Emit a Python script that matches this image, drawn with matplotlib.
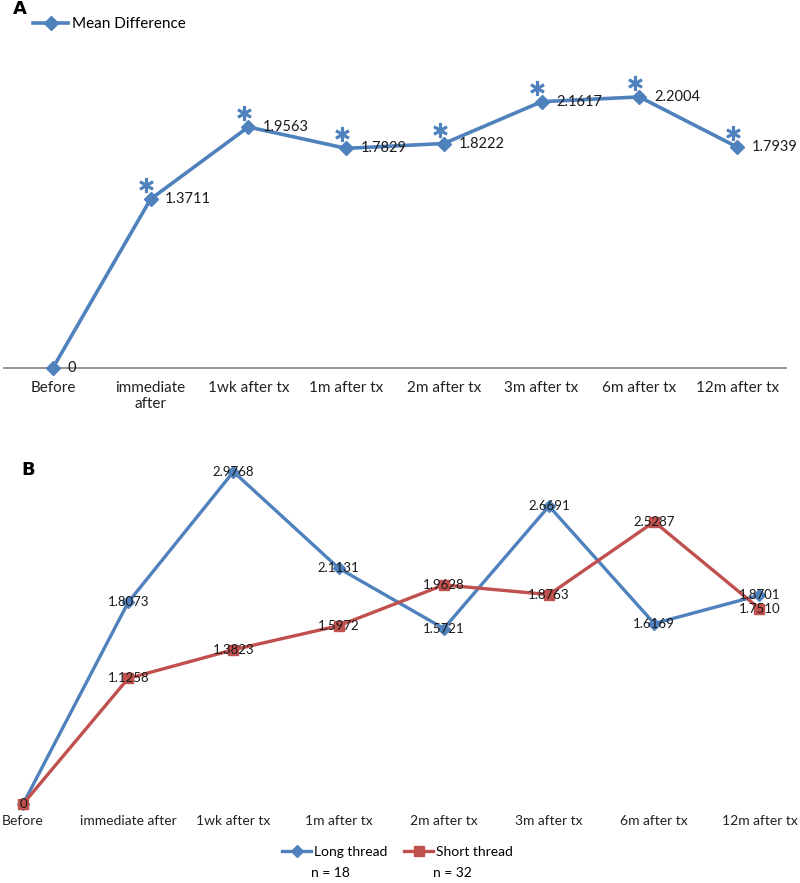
import matplotlib
matplotlib.use("Agg")
import matplotlib.pyplot as plt
from matplotlib.transforms import ScaledTranslation

plt.rcParams['font.family'] = ['Lato', 'DejaVu Sans']

# panel A data
labels_a = ["Before", "immediate\nafter", "1wk after tx", "1m after tx", "2m after tx",
            "3m after tx", "6m after tx", "12m after tx"]
mean_diff = [0, 1.3711, 1.9563, 1.7829, 1.8222, 2.1617, 2.2004, 1.7939]
significant = [False, True, True, True, True, True, True, True]

# panel B data
labels_b = ["Before", "immediate after", "1wk after tx", "1m after tx", "2m after tx",
            "3m after tx", "6m after tx", "12m after tx"]
long_thread = [0, 1.8073, 2.9768, 2.1131, 1.5721, 2.6691, 1.6169, 1.8701]
short_thread = [0, 1.1258, 1.3823, 1.5972, 1.9628, 1.8763, 2.5287, 1.7510]
n_long = 18
n_short = 32

BLUE = "#4F81BD"
RED = "#C0504D"
W, H = 800, 883


def px_axes(fig, left, top, right, bottom):
    # axes placed by pixel box (top-left origin)
    return fig.add_axes([left / W, 1 - bottom / H, (right - left) / W, (bottom - top) / H])


fig = plt.figure(figsize=(W / 100, H / 100), dpi=100)

# ---------- Panel A ----------
ax = px_axes(fig, 4, 60, 786, 368)
xs = list(range(len(mean_diff)))
ax.plot(xs, mean_diff, color=BLUE, lw=2.6, marker="D", ms=7, label="Mean Difference",
        clip_on=False, zorder=3)
ax.set_xlim(-0.5, 7.5)
ax.set_ylim(0, 2.5)
for s in ["top", "left", "right"]:
    ax.spines[s].set_visible(False)
ax.spines["bottom"].set_color("#8c8c8c")
ax.spines["bottom"].set_linewidth(1.3)
ax.spines["bottom"].set_zorder(1)
ax.set_yticks([])
ax.set_xticks(xs)
ax.set_xticklabels(labels_a, fontsize=11, color="#222222")
ax.tick_params(axis="x", length=0, pad=9)

for i, v in enumerate(mean_diff):
    ax.annotate(f"{v:.4f}" if v else "0", xy=(i, v), xytext=(10.5, 0),
                textcoords="offset points", ha="left", va="center",
                fontsize=10.5, color="#1a1a1a", annotation_clip=False)

star_tr = ax.transData + ScaledTranslation(-3 / 72, 10 / 72, fig.dpi_scale_trans)
sx = [i for i, s in enumerate(significant) if s]
sy = [mean_diff[i] for i in sx]
ax.plot(sx, sy, ls="none", marker=r"$\ast$", ms=10, color=BLUE, transform=star_tr,
        clip_on=False)

ax.legend(loc="center left", bbox_to_anchor=(33 / W, 1 - 24 / H),
          bbox_transform=fig.transFigure, frameon=False, fontsize=11,
          handlelength=2.3, handletextpad=0.25, borderaxespad=0, borderpad=0)

fig.text(13 / W, 1 - 9 / H, "A", fontsize=13, fontweight="bold", va="center",
         family="DejaVu Sans")

# ---------- Panel B ----------
bx = px_axes(fig, 0, 458, 800, 809.6)
bx.plot(xs, long_thread, color=BLUE, lw=2.4, marker="D", ms=6, label="Long thread",
        clip_on=False)
bx.plot(xs, short_thread, color=RED, lw=2.4, marker="s", ms=7, label="Short thread",
        clip_on=False)
bx.set_xlim(-0.219, 7.386)
bx.set_ylim(-0.05, 3.1)
for s in bx.spines.values():
    s.set_visible(False)
bx.set_yticks([])
bx.set_xticks(xs)
bx.set_xticklabels(labels_b, fontsize=10, color="#222222")
bx.tick_params(axis="x", length=0, pad=4)

for series in (long_thread, short_thread):
    for i, v in enumerate(series):
        if i == 0 and series is long_thread:
            continue
        bx.annotate(f"{v:.4f}" if v else "0", xy=(i, v), ha="center", va="center",
                    fontsize=9.5, color="#1a1a1a", annotation_clip=False, zorder=5)

bx.legend(loc="center left", bbox_to_anchor=(282 / W, 1 - 852 / H),
          bbox_transform=fig.transFigure, frameon=False, fontsize=10, ncol=2,
          handlelength=2.1, handletextpad=0.2, columnspacing=1.2,
          borderaxespad=0, borderpad=0)
fig.text(330 / W, 1 - 873 / H, f"n = {n_long}", fontsize=10, ha="center", va="center")
fig.text(452 / W, 1 - 873 / H, f"n = {n_short}", fontsize=10, ha="center", va="center")

fig.text(21 / W, 1 - 470 / H, "B", fontsize=13, fontweight="bold", va="center",
         family="DejaVu Sans")

fig.savefig("out.png", dpi=100)
